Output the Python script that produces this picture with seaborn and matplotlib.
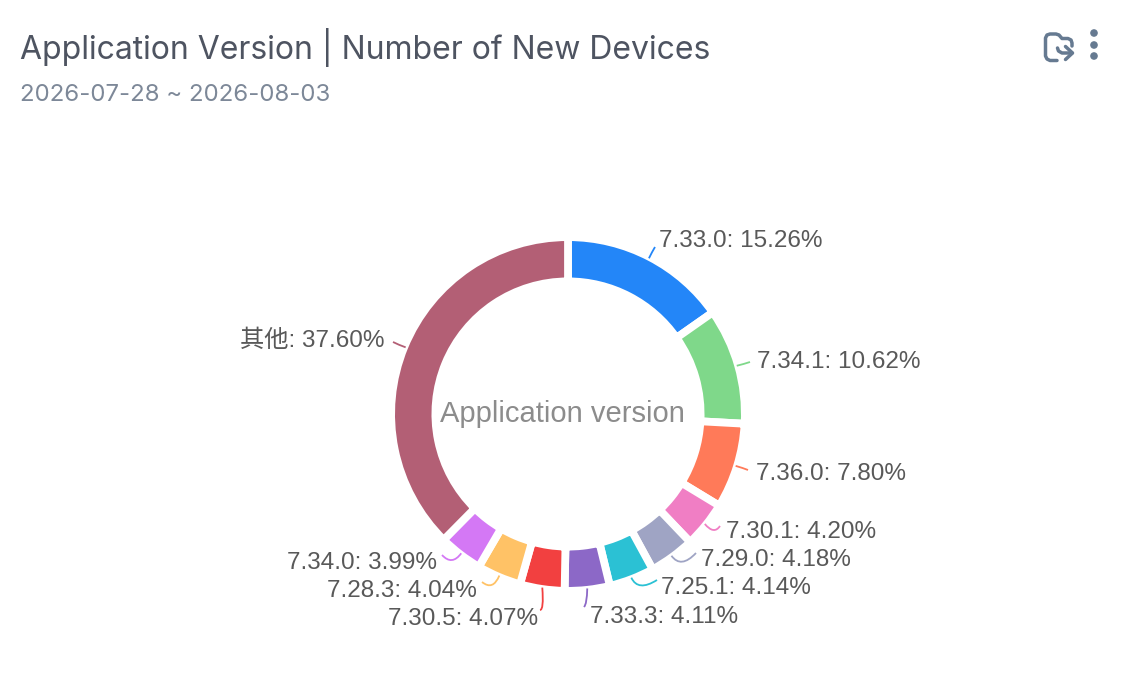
import matplotlib
matplotlib.use("Agg")
import numpy as np
import seaborn as sns
import matplotlib.pyplot as plt
from matplotlib.path import Path
from matplotlib.patches import PathPatch, Circle

versions = ["7.33.0", "7.34.1", "7.36.0", "7.30.1", "7.29.0", "7.25.1",
            "7.33.3", "7.30.5", "7.28.3", "7.34.0", "其他"]
shares = [15.26, 10.62, 7.80, 4.20, 4.18, 4.14, 4.11, 4.07, 4.04, 3.99, 37.60]
colors = ["#2386f8", "#7fd88a", "#ff7a59", "#f07ec4", "#9fa4c4", "#2bc1d4",
          "#8c68c7", "#f24040", "#ffc266", "#d478f5", "#b35f75"]

# label anchor (x, y, ha), then leader bend and leader end, all in image pixels
label_pos = [(659, 241, "left"), (757, 362, "left"), (756, 474, "left"),
             (726, 532, "left"), (701, 560, "left"), (661, 588, "left"),
             (590, 617, "left"), (538, 619, "right"), (477, 591, "right"),
             (437, 563, "right"), (385, 341, "right")]
bends = [(652, 252), (744, 364), (743, 468), (714, 535), (681, 569), (638, 592),
         (587, 604), (544, 610), (493, 591), (452, 566), (399, 345)]
ends = [(655, 247), (750, 362), (748, 470), (720, 526), (696, 553), (657, 580),
        (584, 607), (540, 610), (482, 582), (442, 555), (393, 342)]

sns.set_theme(style="white")
plt.rcParams["font.family"] = ["Liberation Sans", "Noto Sans CJK SC"]

H = 698
cx, cy = 568, 414
edge = 5.6
edge_px = edge * 100 / 72
R = 173 + edge_px / 2
r = 136.5 - edge_px / 2

fig = plt.figure(figsize=(11.48, 6.98), dpi=100)
ax = fig.add_axes([0, 0, 1, 1])
wedges, _ = ax.pie(shares, colors=sns.color_palette(colors), startangle=90, counterclock=False,
                   radius=R, center=(cx, H - cy), frame=False,
                   wedgeprops=dict(width=R - r, edgecolor="white", linewidth=edge))
ax.set_xlim(0, 1148)
ax.set_ylim(0, H)
ax.axis("off")

for i, w in enumerate(wedges):
    mid = np.deg2rad((w.theta1 + w.theta2) / 2)
    start = (cx + 175.5 * np.cos(mid), H - cy + 175.5 * np.sin(mid))
    bx, by = bends[i]
    ex, ey = ends[i]
    path = Path([start, (bx, H - by), (ex, H - ey)], [Path.MOVETO, Path.CURVE3, Path.CURVE3])
    ax.add_patch(PathPatch(path, fill=False, edgecolor=colors[i], linewidth=1.3))
    x, y, ha = label_pos[i]
    ax.text(x, H - y, f"{versions[i]}: {shares[i]:.2f}%", ha=ha, va="center",
            fontsize=17.5, color="#595959")

ax.text(562, H - 414, "Application version", ha="center", va="center", fontsize=21, color="#8c8c8c")

ax.text(20, H - 47.5, "Application Version | Number of New Devices", ha="left", va="center",
        fontsize=23, color="#4e5461", family=["Inter", "Noto Sans CJK SC"])
ax.text(20, H - 95, "2026-07-28 ~ 2026-08-03", ha="left", va="center",
        fontsize=17.3, color="#7d8898", family=["Inter", "Noto Sans CJK SC"])

# toolbar icons
icon = "#667a91"
for yy in [33, 45, 56]:
    ax.add_patch(Circle((1094, H - yy), 3.1, color=icon))


def stroke(pts, curved=False):
    verts = [(x, H - y) for x, y in pts]
    ax.add_patch(PathPatch(Path(verts), fill=False, edgecolor=icon, linewidth=2.5,
                           capstyle="round", joinstyle="round"))


stroke([(1057, 60.5), (1050, 60.5), (1047, 59), (1045.5, 56), (1045.5, 38), (1047, 35), (1050, 34),
        (1056, 34), (1059, 35), (1062, 38.5), (1068, 38.5), (1071, 40), (1072, 43), (1072, 46)])
stroke([(1057.5, 48), (1058.5, 51), (1062, 53), (1072, 53)])
stroke([(1065.5, 46.5), (1072.5, 53), (1065.5, 59.5)])

fig.savefig("out.png", dpi=100, facecolor="white")
